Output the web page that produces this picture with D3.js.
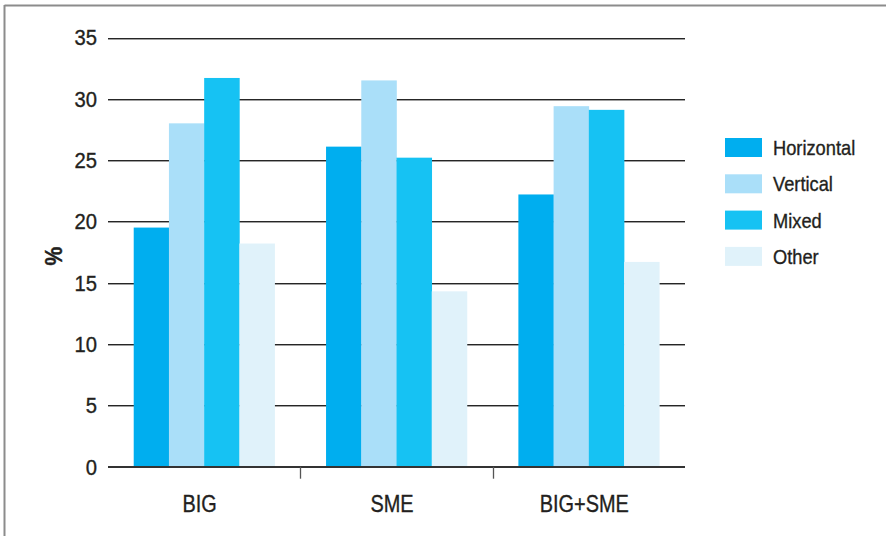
<!DOCTYPE html>
<html>
<head>
<meta charset="utf-8">
<script src="https://cdn.jsdelivr.net/npm/d3@7/dist/d3.min.js"></script>
<style>
  html, body { margin: 0; padding: 0; background: #fff; }
  svg { display: block; }
  text { font-family: "Liberation Sans", Arial, sans-serif; fill: #231f20; stroke: #231f20; stroke-width: 0.35px; }
</style>
</head>
<body>
<svg id="chart" width="886" height="536"></svg>
<script>
// Share of firms by type of cooperation, per firm size group (%)
const categories = ["BIG", "SME", "BIG+SME"];
const seriesNames = ["Horizontal", "Vertical", "Mixed", "Other"];
const horizontal = [19.5, 26.1, 22.2];
const vertical   = [28.0, 31.5, 29.4];
const mixed      = [31.7, 25.2, 29.1];
const other      = [18.2, 14.3, 16.7];
const yTicks = [0, 5, 10, 15, 20, 25, 30, 35];
const colors = ["#00aeef", "#aadff9", "#16c2f3", "#e0f2fa"];

const seriesValues = [horizontal, vertical, mixed, other];

const svg = d3.select("#chart");
const W = 886, H = 536;
const plot = { left: 108, right: 685, top: 37.5, bottom: 466.7 };

// condensed-looking text: regular sans squeezed horizontally
function narrowText(sel, x, y, sx) {
  return sel.attr("transform", `translate(${x},${y}) scale(${sx},1)`);
}

// outer frame (top and left edges)
svg.append("line").attr("x1", 4.5).attr("x2", W).attr("y1", 5.5).attr("y2", 5.5)
  .attr("stroke", "#8c8c8c").attr("stroke-width", 2);
svg.append("line").attr("x1", 4.5).attr("x2", 4.5).attr("y1", 5).attr("y2", H)
  .attr("stroke", "#8c8c8c").attr("stroke-width", 2);

const x0 = d3.scaleBand().domain(categories).range([plot.left, plot.right]).paddingInner(0).paddingOuter(0);
const x1 = d3.scaleBand().domain(seriesNames).range([0, x0.bandwidth()]).paddingInner(0).paddingOuter(0.73);
const y = d3.scaleLinear().domain([0, 35]).range([plot.bottom, plot.top]);

// horizontal gridlines
const grid = svg.append("g");
yTicks.filter(t => t > 0).forEach(t => {
  const yy = Math.round(y(t));
  grid.append("line").attr("x1", plot.left).attr("x2", plot.right)
    .attr("y1", yy + 1.5).attr("y2", yy + 1.5).attr("stroke", "#a0a0a0").attr("stroke-width", 1);
  grid.append("line").attr("x1", plot.left).attr("x2", plot.right)
    .attr("y1", yy + 0.5).attr("y2", yy + 0.5).attr("stroke", "#262626").attr("stroke-width", 1.2);
});

// y tick labels
svg.append("g").selectAll("text").data(yTicks).join("text")
  .each(function (d) { narrowText(d3.select(this), 97, y(d), 0.92); })
  .attr("dy", "0.36em")
  .attr("text-anchor", "end").style("font-size", "22px")
  .text(d => d);

// y axis title
svg.append("text")
  .attr("transform", `translate(62,256) rotate(-90) scale(0.92,1)`)
  .attr("text-anchor", "middle").style("font-size", "23px").style("font-weight", "bold")
  .text("%");

// bars
const groups = svg.append("g").selectAll("g").data(categories).join("g")
  .attr("transform", d => `translate(${x0(d)},0)`);
groups.selectAll("rect")
  .data((c, i) => seriesNames.map((s, j) => ({ s, v: seriesValues[j][i], color: colors[j] })))
  .join("rect")
  .attr("x", d => x1(d.s))
  .attr("width", x1.bandwidth() + 0.3)
  .attr("y", d => y(d.v))
  .attr("height", d => y(0) - y(d.v))
  .attr("fill", d => d.color);

// x axis baseline and separators
svg.append("line").attr("x1", plot.left).attr("x2", plot.right)
  .attr("y1", plot.bottom + 0.3).attr("y2", plot.bottom + 0.3)
  .attr("stroke", "#333").attr("stroke-width", 2.2);
categories.slice(1).forEach(c => {
  const xx = Math.round(x0(c)) + 0.5;
  svg.append("line").attr("x1", xx).attr("x2", xx)
    .attr("y1", plot.bottom).attr("y2", plot.bottom + 12)
    .attr("stroke", "#555").attr("stroke-width", 1.3);
});

// category labels
svg.append("g").selectAll("text").data(categories).join("text")
  .each(function (d) { narrowText(d3.select(this), x0(d) + x0.bandwidth() / 2 - 4.5, 512, 0.83); })
  .attr("text-anchor", "middle").style("font-size", "24px")
  .text(d => d);

// legend
const legend = svg.append("g").attr("transform", "translate(725,138)");
const item = legend.selectAll("g").data(seriesNames).join("g")
  .attr("transform", (d, i) => `translate(0,${i * 36.3})`);
item.append("rect").attr("width", 37).attr("height", 19)
  .attr("fill", (d, i) => colors[i]);
item.append("text")
  .attr("transform", "translate(48,9.5) scale(0.87,1)")
  .attr("dy", "0.36em")
  .style("font-size", "21px").text(d => d);
</script>
</body>
</html>
